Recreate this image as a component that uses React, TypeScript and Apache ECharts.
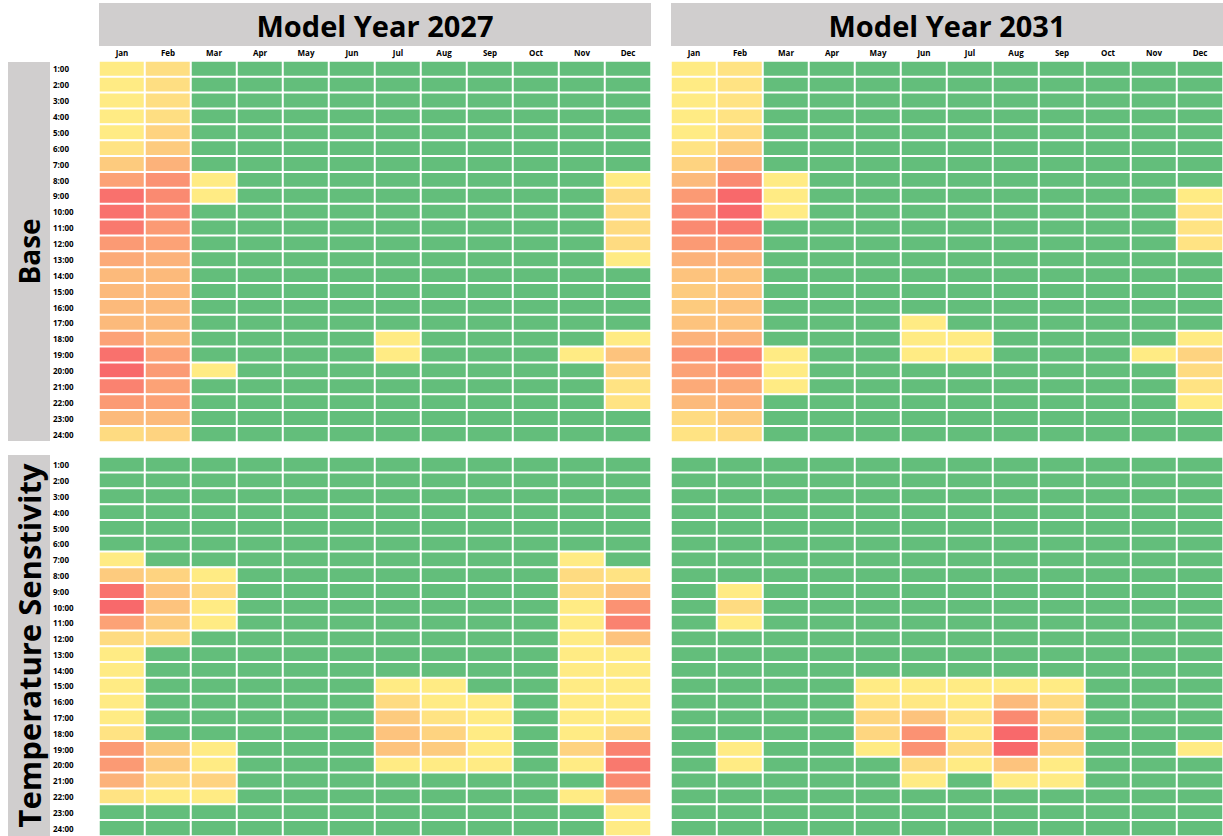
import React, { useEffect, useRef } from "react";
import * as echarts from "echarts";

const months = ["Jan", "Feb", "Mar", "Apr", "May", "Jun", "Jul", "Aug", "Sep", "Oct", "Nov", "Dec"];
const hours = [
  "1:00", "2:00", "3:00", "4:00", "5:00", "6:00", "7:00", "8:00", "9:00", "10:00", "11:00", "12:00",
  "13:00", "14:00", "15:00", "16:00", "17:00", "18:00", "19:00", "20:00", "21:00", "22:00", "23:00", "24:00",
];
const panelTitles = ["Model Year 2027", "Model Year 2031"];
const caseTitles = ["Base", "Temperature Senstivity"];

// 0 = green (no issue); 1..9 = yellow -> red severity
const base2027 = [
  [1, 1.8, 0, 0, 0, 0, 0, 0, 0, 0, 0, 0],
  [1, 1.8, 0, 0, 0, 0, 0, 0, 0, 0, 0, 0],
  [1, 1.8, 0, 0, 0, 0, 0, 0, 0, 0, 0, 0],
  [1, 1.8, 0, 0, 0, 0, 0, 0, 0, 0, 0, 0],
  [1, 2.5, 0, 0, 0, 0, 0, 0, 0, 0, 0, 0],
  [1.5, 3, 0, 0, 0, 0, 0, 0, 0, 0, 0, 0],
  [3, 4.5, 0, 0, 0, 0, 0, 0, 0, 0, 0, 0],
  [5.5, 6.5, 1, 0, 0, 0, 0, 0, 0, 0, 0, 1],
  [8.5, 7, 1, 0, 0, 0, 0, 0, 0, 0, 0, 2],
  [8.5, 7, 0, 0, 0, 0, 0, 0, 0, 0, 0, 2],
  [8, 6, 0, 0, 0, 0, 0, 0, 0, 0, 0, 2],
  [6, 5.5, 0, 0, 0, 0, 0, 0, 0, 0, 0, 2],
  [5, 4.5, 0, 0, 0, 0, 0, 0, 0, 0, 0, 1],
  [4, 4, 0, 0, 0, 0, 0, 0, 0, 0, 0, 0],
  [4, 4, 0, 0, 0, 0, 0, 0, 0, 0, 0, 0],
  [4, 4, 0, 0, 0, 0, 0, 0, 0, 0, 0, 0],
  [4, 4, 0, 0, 0, 0, 0, 0, 0, 0, 0, 0],
  [5.5, 4, 0, 0, 0, 0, 1, 0, 0, 0, 0, 1],
  [8.5, 5.5, 0, 0, 0, 0, 1, 0, 0, 0, 1, 3.5],
  [9, 6, 1, 0, 0, 0, 0, 0, 0, 0, 0, 2.5],
  [7.5, 5.5, 0, 0, 0, 0, 0, 0, 0, 0, 0, 1.5],
  [6, 5.5, 0, 0, 0, 0, 0, 0, 0, 0, 0, 1.5],
  [4, 4, 0, 0, 0, 0, 0, 0, 0, 0, 0, 0],
  [2, 2.5, 0, 0, 0, 0, 0, 0, 0, 0, 0, 0],
];

const base2031 = [
  [1, 1.5, 0, 0, 0, 0, 0, 0, 0, 0, 0, 0],
  [1, 1.5, 0, 0, 0, 0, 0, 0, 0, 0, 0, 0],
  [1, 1.5, 0, 0, 0, 0, 0, 0, 0, 0, 0, 0],
  [1, 1.5, 0, 0, 0, 0, 0, 0, 0, 0, 0, 0],
  [1, 2, 0, 0, 0, 0, 0, 0, 0, 0, 0, 0],
  [1.5, 3, 0, 0, 0, 0, 0, 0, 0, 0, 0, 0],
  [2.5, 4.5, 0, 0, 0, 0, 0, 0, 0, 0, 0, 0],
  [4, 7, 1, 0, 0, 0, 0, 0, 0, 0, 0, 0],
  [6, 9, 1, 0, 0, 0, 0, 0, 0, 0, 0, 1],
  [7, 9, 1, 0, 0, 0, 0, 0, 0, 0, 0, 1.5],
  [7, 8, 0, 0, 0, 0, 0, 0, 0, 0, 0, 1.5],
  [6, 6, 0, 0, 0, 0, 0, 0, 0, 0, 0, 1.5],
  [4.5, 4.5, 0, 0, 0, 0, 0, 0, 0, 0, 0, 0],
  [3.5, 3.5, 0, 0, 0, 0, 0, 0, 0, 0, 0, 0],
  [3, 3.5, 0, 0, 0, 0, 0, 0, 0, 0, 0, 0],
  [3, 3.5, 0, 0, 0, 0, 0, 0, 0, 0, 0, 0],
  [3.5, 3.5, 0, 0, 0, 1, 0, 0, 0, 0, 0, 0],
  [4.5, 4.5, 0, 0, 0, 1, 1, 0, 0, 0, 0, 1],
  [6.5, 7.5, 1, 0, 0, 1, 1, 0, 0, 0, 1, 2.5],
  [5.5, 6.5, 1, 0, 0, 0, 0, 0, 0, 0, 0, 2],
  [5, 5, 1, 0, 0, 0, 0, 0, 0, 0, 0, 1.5],
  [4, 4.5, 0, 0, 0, 0, 0, 0, 0, 0, 0, 1],
  [2, 3, 0, 0, 0, 0, 0, 0, 0, 0, 0, 0],
  [1.5, 2, 0, 0, 0, 0, 0, 0, 0, 0, 0, 0],
];

const temp2027 = [
  [0, 0, 0, 0, 0, 0, 0, 0, 0, 0, 0, 0],
  [0, 0, 0, 0, 0, 0, 0, 0, 0, 0, 0, 0],
  [0, 0, 0, 0, 0, 0, 0, 0, 0, 0, 0, 0],
  [0, 0, 0, 0, 0, 0, 0, 0, 0, 0, 0, 0],
  [0, 0, 0, 0, 0, 0, 0, 0, 0, 0, 0, 0],
  [0, 0, 0, 0, 0, 0, 0, 0, 0, 0, 0, 0],
  [1, 0, 0, 0, 0, 0, 0, 0, 0, 0, 1, 0],
  [3, 2.5, 1, 0, 0, 0, 0, 0, 0, 0, 2, 1.5],
  [8.5, 3.5, 2, 0, 0, 0, 0, 0, 0, 0, 2, 3.5],
  [9, 3.5, 1, 0, 0, 0, 0, 0, 0, 0, 1, 6.5],
  [5.5, 3, 1, 0, 0, 0, 0, 0, 0, 0, 1, 7.5],
  [2, 2, 0, 0, 0, 0, 0, 0, 0, 0, 1, 3.5],
  [1, 0, 0, 0, 0, 0, 0, 0, 0, 0, 1, 1],
  [1, 0, 0, 0, 0, 0, 0, 0, 0, 0, 1, 1],
  [1, 0, 0, 0, 0, 0, 1, 1, 0, 0, 1, 1],
  [1, 0, 0, 0, 0, 0, 2, 1, 1, 0, 1, 1],
  [1, 0, 0, 0, 0, 0, 3, 1.5, 1, 0, 1, 1],
  [1.5, 0, 0, 0, 0, 0, 3.5, 2.5, 1, 0, 1, 2.5],
  [6, 3, 1, 0, 0, 0, 3.5, 3, 1, 0, 2.5, 7.5],
  [6, 3, 1, 0, 0, 0, 1, 1, 1, 0, 1, 8],
  [4.5, 2, 2.5, 0, 0, 0, 0, 0, 0, 0, 0, 7],
  [1.5, 1, 1, 0, 0, 0, 0, 0, 0, 0, 1, 4.5],
  [0, 0, 0, 0, 0, 0, 0, 0, 0, 0, 0, 1],
  [0, 0, 0, 0, 0, 0, 0, 0, 0, 0, 0, 1],
];

const temp2031 = [
  [0, 0, 0, 0, 0, 0, 0, 0, 0, 0, 0, 0],
  [0, 0, 0, 0, 0, 0, 0, 0, 0, 0, 0, 0],
  [0, 0, 0, 0, 0, 0, 0, 0, 0, 0, 0, 0],
  [0, 0, 0, 0, 0, 0, 0, 0, 0, 0, 0, 0],
  [0, 0, 0, 0, 0, 0, 0, 0, 0, 0, 0, 0],
  [0, 0, 0, 0, 0, 0, 0, 0, 0, 0, 0, 0],
  [0, 0, 0, 0, 0, 0, 0, 0, 0, 0, 0, 0],
  [0, 0, 0, 0, 0, 0, 0, 0, 0, 0, 0, 0],
  [0, 1, 0, 0, 0, 0, 0, 0, 0, 0, 0, 0],
  [0, 2, 0, 0, 0, 0, 0, 0, 0, 0, 0, 0],
  [0, 1, 0, 0, 0, 0, 0, 0, 0, 0, 0, 0],
  [0, 0, 0, 0, 0, 0, 0, 0, 0, 0, 0, 0],
  [0, 0, 0, 0, 0, 0, 0, 0, 0, 0, 0, 0],
  [0, 0, 0, 0, 0, 0, 0, 0, 0, 0, 0, 0],
  [0, 0, 0, 0, 1, 1, 1, 1, 1, 0, 0, 0],
  [0, 0, 0, 0, 1.3, 1.2, 1, 4, 2, 0, 0, 0],
  [0, 0, 0, 0, 2.3, 3.5, 1.5, 7, 2.3, 0, 0, 0],
  [0, 0, 0, 0, 2.3, 6.5, 1.3, 9, 3, 0, 0, 0],
  [0, 1, 0, 0, 1, 6.5, 2, 9, 2.5, 0, 0, 1],
  [0, 1, 0, 0, 0, 2, 1, 3.5, 1, 0, 0, 0],
  [0, 0, 0, 0, 0, 1, 0, 1, 1, 0, 0, 0],
  [0, 0, 0, 0, 0, 0, 0, 0, 0, 0, 0, 0],
  [0, 0, 0, 0, 0, 0, 0, 0, 0, 0, 0, 0],
  [0, 0, 0, 0, 0, 0, 0, 0, 0, 0, 0, 0],
];

const scaleColors = [
  "#63BE7B",
  "#FFEB84", "#FEDB81", "#FDCB7E", "#FCBA7B", "#FCAA78",
  "#FB9A74", "#FA8A71", "#F9796E", "#F8696B",
];

const FONT = "'Open Sans', 'Noto Sans', sans-serif";

function toTriples(m: number[][]) {
  const out: number[][] = [];
  m.forEach((row, y) => row.forEach((v, x) => out.push([x, y, v])));
  return out;
}

export default function App() {
  const ref = useRef<HTMLDivElement>(null);
  useEffect(() => {
    if (!ref.current) return;
    const chart = echarts.init(ref.current, null, { renderer: "svg" });
    const L = [99, 671];
    const T = [61, 457];
    const W = 552;
    const H = [381, 379];
    const panels = [
      { data: base2027, col: 0, row: 0 },
      { data: base2031, col: 1, row: 0 },
      { data: temp2027, col: 0, row: 1 },
      { data: temp2031, col: 1, row: 1 },
    ];
    const grid = panels.map((p) => ({ left: L[p.col], top: T[p.row], width: W, height: H[p.row] }));
    const xAxis = panels.map((p, i) => ({
      type: "category",
      gridIndex: i,
      data: months,
      position: "top",
      axisLine: { show: false },
      axisTick: { show: false },
      splitLine: { show: false },
      axisLabel: {
        show: p.row === 0,
        interval: 0,
        margin: 5,
        fontSize: 8,
        fontWeight: "bold",
        color: "#000",
        fontFamily: FONT,
      },
    }));
    const yAxis = panels.map((p, i) => ({
      type: "category",
      gridIndex: i,
      data: hours,
      inverse: true,
      axisLine: { show: false },
      axisTick: { show: false },
      splitLine: { show: false },
      axisLabel: {
        show: p.col === 0,
        interval: 0,
        align: "left",
        margin: 46,
        fontSize: 8,
        fontWeight: "bold",
        color: "#000",
        fontFamily: FONT,
      },
    }));
    const series = panels.map((p, i) => ({
      type: "heatmap",
      xAxisIndex: i,
      yAxisIndex: i,
      data: toTriples(p.data),
      itemStyle: { borderColor: "#ffffff", borderWidth: 2 },
      emphasis: { disabled: true },
    }));
    const graphic: any[] = [];
    panelTitles.forEach((t, i) => {
      graphic.push({
        type: "rect",
        shape: { x: L[i], y: 3, width: W, height: 43 },
        style: { fill: "#D0CECE" },
        z: 0,
      });
      graphic.push({
        type: "text",
        x: L[i] + W / 2,
        y: 25,
        style: {
          text: t,
          fill: "#000",
          font: `bold 29px ${FONT}`,
          textAlign: "center",
          textVerticalAlign: "middle",
        },
        z: 1,
      });
    });
    const bandTop = [62, 455];
    const bandH = [379, 381];
    const bandFont = [28, 31];
    caseTitles.forEach((t, i) => {
      graphic.push({
        type: "rect",
        shape: { x: 8, y: bandTop[i], width: 42, height: bandH[i] },
        style: { fill: "#D0CECE" },
        z: 0,
      });
      graphic.push({
        type: "text",
        x: 29,
        y: bandTop[i] + bandH[i] / 2,
        rotation: Math.PI / 2,
        style: {
          text: t,
          fill: "#000",
          font: `bold ${bandFont[i]}px ${FONT}`,
          textAlign: "center",
          textVerticalAlign: "middle",
        },
        z: 1,
      });
    });
    chart.setOption({
      animation: false,
      backgroundColor: "#ffffff",
      grid,
      xAxis,
      yAxis,
      visualMap: {
        type: "continuous",
        show: false,
        min: 0,
        max: 9,
        seriesIndex: [0, 1, 2, 3],
        inRange: { color: scaleColors },
      },
      series,
      graphic,
    } as any);
    return () => chart.dispose();
  }, []);
  return (
    <div
      ref={ref}
      style={{ position: "absolute", left: 0, top: 0, width: 1223, height: 836 }}
    />
  );
}
